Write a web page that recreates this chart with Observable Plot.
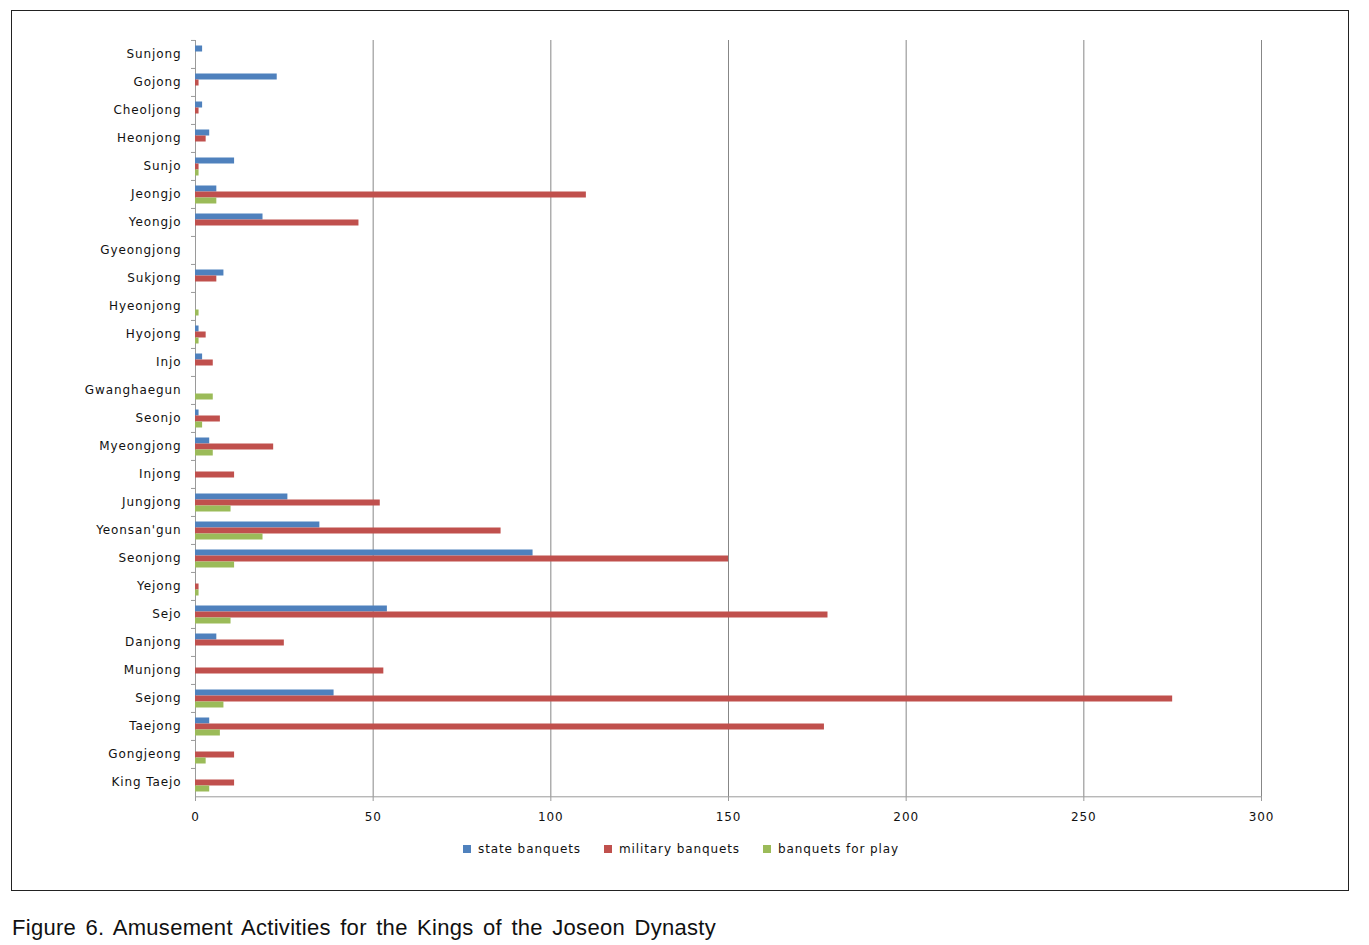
<!DOCTYPE html>
<html>
<head>
<meta charset="utf-8">
<script src="https://cdn.jsdelivr.net/npm/d3@7"></script>
<script src="https://cdn.jsdelivr.net/npm/@observablehq/plot@0.6"></script>
<style>
  html, body { margin: 0; padding: 0; background: #fff; }
  #page { position: relative; width: 1369px; height: 945px; }
  #box { position: absolute; left: 11px; top: 10px; width: 1336px; height: 879px; border: 1px solid #222; }
  #chart { position: absolute; left: 11px; top: 10px; }
  #chart svg text { letter-spacing: 0.9px; }
  #legend { position: absolute; left: 463px; top: 842px; display: flex; align-items: center;
            font-family: "DejaVu Sans", sans-serif; font-size: 12px; letter-spacing: 0.9px; color: #111; }
  #legend .item { display: flex; align-items: center; margin-right: 23px; }
  #legend .sw { width: 8px; height: 8px; margin-right: 7px; }
  #caption { position: absolute; left: 12px; top: 915px; font-family: "Liberation Sans Narrow", "Liberation Sans", sans-serif;
             font-size: 22px; letter-spacing: 0.3px; word-spacing: 3px; color: #111; white-space: nowrap; }
</style>
</head>
<body>
<div id="page">
  <div id="box"></div>
  <div id="chart"></div>
  <div id="legend"></div>
  <div id="caption">Figure 6. Amusement Activities for the Kings of the Joseon Dynasty</div>
</div>
<script>
// Kings in chronological order (bottom of chart to top)
const kings = ["King Taejo", "Gongjeong", "Taejong", "Sejong", "Munjong", "Danjong", "Sejo", "Yejong",
  "Seonjong", "Yeonsan'gun", "Jungjong", "Injong", "Myeongjong", "Seonjo", "Gwanghaegun", "Injo",
  "Hyojong", "Hyeonjong", "Sukjong", "Gyeongjong", "Yeongjo", "Jeongjo", "Sunjo", "Heonjong",
  "Cheoljong", "Gojong", "Sunjong"];
const seriesNames = ["state banquets", "military banquets", "banquets for play"];
const stateBanquets    = [0, 0, 4, 39, 0, 6, 54, 0, 95, 35, 26, 0, 4, 1, 0, 2, 1, 0, 8, 0, 19, 6, 11, 4, 2, 23, 2];
const militaryBanquets = [11, 11, 177, 275, 53, 25, 178, 1, 150, 86, 52, 11, 22, 7, 0, 5, 3, 0, 6, 0, 46, 110, 1, 3, 1, 1, 0];
const playBanquets     = [4, 3, 7, 8, 0, 0, 10, 1, 11, 19, 10, 0, 5, 2, 5, 0, 1, 1, 0, 0, 0, 6, 1, 0, 0, 0, 0];
const xTicks = [0, 50, 100, 150, 200, 250, 300];
const colors = ["#4F81BD", "#C0504D", "#9BBB59"];

const rows = kings.flatMap((k, i) => [
  {king: k, series: seriesNames[0], value: stateBanquets[i]},
  {king: k, series: seriesNames[1], value: militaryBanquets[i]},
  {king: k, series: seriesNames[2], value: playBanquets[i]}
]);

const H = 830;
const plotTop = 28.5, plotBottom = 787.5;
const step = (plotBottom - plotTop) / kings.length;
const barStep = step / 4.5;

const chart = Plot.plot({
  width: 1338,
  height: H,
  marginLeft: 184,
  marginRight: 88,
  marginTop: plotTop,
  marginBottom: H - plotBottom,
  style: {fontFamily: "DejaVu Sans, sans-serif", fontSize: "12px", color: "#111", background: "transparent"},
  x: {domain: [0, 300]},
  y: {domain: seriesNames, paddingInner: 0, paddingOuter: 0.75, axis: null},
  fy: {domain: kings.slice().reverse(), padding: 0},
  color: {domain: seriesNames, range: colors},
  marks: [
    Plot.gridX(xTicks.filter(d => d > 0), {stroke: "#878787", strokeOpacity: 1}),
    Plot.ruleX([0], {stroke: "#9a9a9a"}),
    Plot.ruleY([{king: kings[0], series: seriesNames[2]}], {y: "series", fy: "king", dy: 1.25 * barStep, stroke: "#9a9a9a"}),
    Plot.barX(rows, {x: "value", y: "series", fy: "king", fill: "series"}),
    Plot.axisFy({anchor: "left", tickSize: 0, tickPadding: 14, label: null}),
    Plot.axisFy({anchor: "left", tickSize: 4, tickFormat: () => "", dy: -step / 2, label: null, stroke: "#9a9a9a"}),
    Plot.axisX({ticks: xTicks, tickSize: 5, tickPadding: 11, label: null, stroke: "#9a9a9a"})
  ]
});
document.getElementById("chart").appendChild(chart);

const legend = document.getElementById("legend");
seriesNames.forEach((s, i) => {
  const item = document.createElement("div");
  item.className = "item";
  const sw = document.createElement("div");
  sw.className = "sw";
  sw.style.background = colors[i];
  const t = document.createElement("span");
  t.textContent = s;
  item.appendChild(sw);
  item.appendChild(t);
  legend.appendChild(item);
});
</script>
</body>
</html>
